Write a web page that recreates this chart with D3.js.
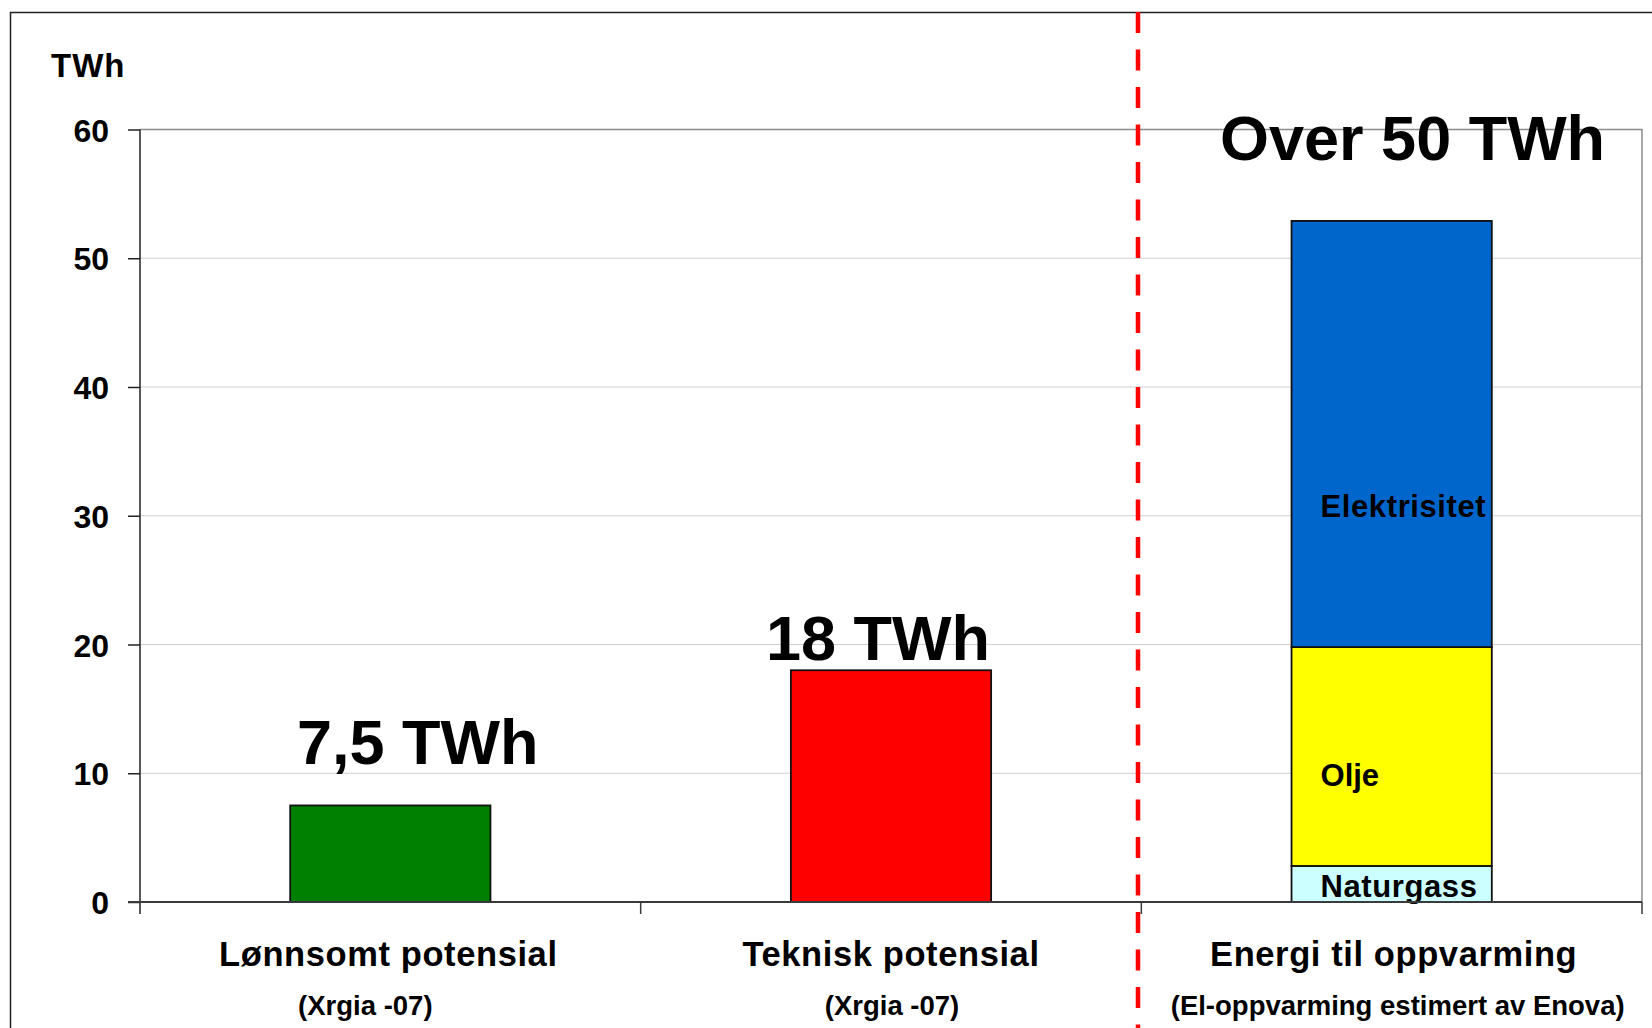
<!DOCTYPE html>
<html>
<head>
<meta charset="utf-8">
<script src="https://cdn.jsdelivr.net/npm/d3@7"></script>
<style>
  body { margin: 0; background: #fff; }
  svg { display: block; font-family: "Liberation Sans", Arial, sans-serif; font-weight: bold; }
</style>
</head>
<body>
<div id="chart"></div>
<script>
// data
const categories = ["Lønnsomt potensial", "Teknisk potensial", "Energi til oppvarming"];
const subLabels = ["(Xrgia -07)", "(Xrgia -07)", "(El-oppvarming estimert av Enova)"];
const singleValues = [7.5, 18];
const singleColors = ["#008000", "#ff0000"];
const bigLabels = ["7,5 TWh", "18 TWh", "Over 50 TWh"];
const segments = ["Naturgass", "Olje", "Elektrisitet"];
const segmentValues = [2.8, 17, 33.1];
const segmentColors = ["#ccffff", "#ffff00", "#0066cc"];
const yTicks = [0, 10, 20, 30, 40, 50, 60];

const width = 1652, height = 1028;
const plot = { left: 140, top: 129.5, right: 1642, bottom: 902 };

let svg = d3.select("#chart").append("svg")
    .attr("width", width)
    .attr("height", height);

// outer frame (runs off the right and bottom)
svg.append("rect")
    .attr("x", 10.5).attr("y", 12.5)
    .attr("width", 1700).attr("height", 1100)
    .attr("fill", "none")
    .attr("stroke", "#222")
    .attr("stroke-width", 1.5);

let x = d3.scaleBand()
    .domain(categories)
    .range([plot.left, plot.right])
    .padding(0);

let y = d3.scaleLinear()
    .domain([0, 60])
    .range([plot.bottom, plot.top]);

const barW = x.bandwidth() * 0.4;
const barX = c => x(c) + (x.bandwidth() - barW) / 2;

// gridlines
svg.append("g").selectAll("line")
    .data(yTicks.filter(d => d > 0 && d < 60))
    .join("line")
    .attr("x1", plot.left).attr("x2", plot.right)
    .attr("y1", d => y(d)).attr("y2", d => y(d))
    .attr("stroke", "#cfcfcf")
    .attr("stroke-width", 1.2);

// plot border top and right
svg.append("path")
    .attr("d", `M${plot.left},${y(60)}H${plot.right}V${y(0)}`)
    .attr("fill", "none")
    .attr("stroke", "#8c8c8c")
    .attr("stroke-width", 1.5);

// simple bars
svg.append("g").selectAll("rect")
    .data(singleValues)
    .join("rect")
    .attr("x", (d, i) => barX(categories[i]))
    .attr("y", d => y(d))
    .attr("width", barW)
    .attr("height", d => y(0) - y(d))
    .attr("fill", (d, i) => singleColors[i])
    .attr("stroke", "#111")
    .attr("stroke-width", 1.8);

// stacked bar
let stackData = [];
let acc = 0;
segmentValues.forEach((v, i) => {
  stackData.push({ name: segments[i], y0: acc, y1: acc + v, color: segmentColors[i] });
  acc += v;
});
const stackCat = categories[2];

svg.append("g").selectAll("rect")
    .data(stackData)
    .join("rect")
    .attr("x", barX(stackCat))
    .attr("y", d => y(d.y1))
    .attr("width", barW)
    .attr("height", d => y(d.y0) - y(d.y1))
    .attr("fill", d => d.color)
    .attr("stroke", "#111")
    .attr("stroke-width", 1.8);

// segment labels (baseline heights in TWh)
const segLabelAt = [0.4, 9.0, 29.9];
svg.append("g").selectAll("text")
    .data(stackData)
    .join("text")
    .attr("x", barX(stackCat) + 29)
    .attr("y", (d, i) => y(segLabelAt[i]))
    .style("font-size", "31px")
    .style("letter-spacing", (d, i) => i === 1 ? "0px" : "0.6px")
    .text(d => d.name);

// y axis
let yAxis = svg.append("g")
    .attr("transform", `translate(${plot.left},0)`)
    .call(d3.axisLeft(y).tickValues(yTicks).tickSize(12).tickPadding(19));
yAxis.select(".domain").remove();
yAxis.selectAll(".tick line").attr("stroke", "#222").attr("stroke-width", 1.5);
yAxis.selectAll(".tick text")
    .attr("dy", null)
    .attr("y", 11.5)
    .style("font-size", "32px")
    .style("font-family", "'Liberation Sans', Arial, sans-serif")
    .style("font-weight", "bold")
    .attr("fill", "#000");

svg.append("line")
    .attr("x1", plot.left).attr("x2", plot.left)
    .attr("y1", plot.top).attr("y2", plot.bottom + 12)
    .attr("stroke", "#222").attr("stroke-width", 1.5);

// x axis line and category boundary ticks
svg.append("line")
    .attr("x1", plot.left - 12).attr("x2", plot.right)
    .attr("y1", y(0)).attr("y2", y(0))
    .attr("stroke", "#3a3a3a").attr("stroke-width", 2);

const bounds = categories.map(c => x(c)).concat([x(categories[2]) + x.bandwidth()]);
svg.append("g").selectAll("line")
    .data(bounds.slice(1))
    .join("line")
    .attr("x1", d => d).attr("x2", d => d)
    .attr("y1", y(0)).attr("y2", y(0) + 12)
    .attr("stroke", "#3a3a3a").attr("stroke-width", 1.5);

// unit label
svg.append("text")
    .attr("x", 51).attr("y", 77)
    .style("font-size", "33px")
    .style("letter-spacing", "1px")
    .text("TWh");

// category labels
const catShift = [-2, 0, 2];
const subShift = [-25, 1, 6];
svg.append("g").selectAll("text")
    .data(categories)
    .join("text")
    .attr("x", (d, i) => x(d) + x.bandwidth() / 2 + catShift[i])
    .attr("y", 966)
    .attr("text-anchor", "middle")
    .style("font-size", "34.5px")
    .style("letter-spacing", "0.6px")
    .text(d => d);

svg.append("g").selectAll("text")
    .data(subLabels)
    .join("text")
    .attr("x", (d, i) => x(categories[i]) + x.bandwidth() / 2 + subShift[i])
    .attr("y", 1015)
    .attr("text-anchor", "middle")
    .style("font-size", "27.5px")
    .text(d => d);

// big value labels
const totals = singleValues.concat([acc]);
const bigX = [297, 766, 1220];
const bigLift = [41, 10, 0];
svg.append("g").selectAll("text")
    .data(bigLabels)
    .join("text")
    .attr("x", (d, i) => bigX[i])
    .attr("y", (d, i) => i < 2 ? y(totals[i]) - bigLift[i] : 160)
    .style("font-size", "63px")
    .text(d => d);

// red dashed divider
svg.append("line")
    .attr("x1", 1138).attr("x2", 1138)
    .attr("y1", 12).attr("y2", height)
    .attr("stroke", "#ff0000")
    .attr("stroke-width", 4.5)
    .attr("stroke-dasharray", "21 16.5");
</script>
</body>
</html>
